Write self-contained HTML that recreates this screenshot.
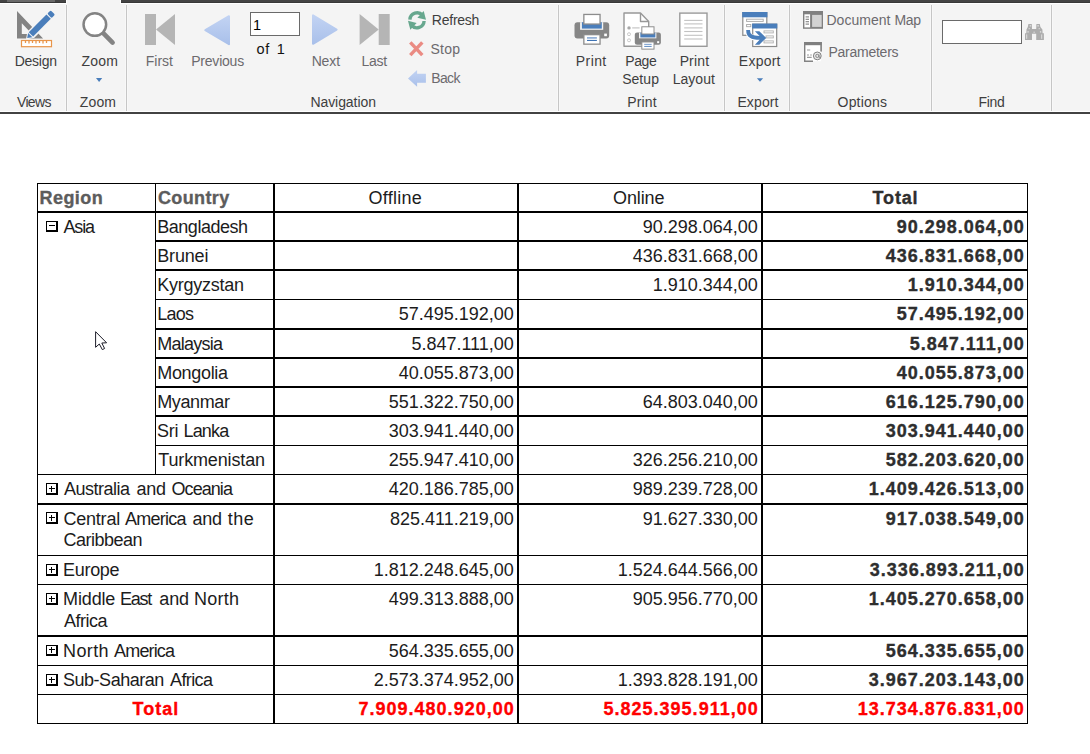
<!DOCTYPE html>
<html><head><meta charset="utf-8"><title>Report</title>
<style>
html,body{margin:0;padding:0}
body{width:1090px;height:754px;overflow:hidden;background:#fff;position:relative;font-family:"Liberation Sans",sans-serif}
.r{position:absolute}
.t{position:absolute;white-space:pre;font-family:"Liberation Sans",sans-serif}
svg{position:absolute;overflow:visible}
#rb{position:absolute;left:0;top:0;width:1090px;height:111px;background:#f4f4f4}
</style></head><body>
<div id="rb"></div>
<div class="r" style="left:0;top:112px;width:1090px;height:2px;background:#424242"></div>
<!-- top dark strip with tab gap -->
<div class="r" style="left:0;top:0;width:67px;height:4px;background:#fff"></div>
<div class="r" style="left:120px;top:0;width:970px;height:4px;background:#fff"></div>
<div class="r" style="left:0;top:0;width:66px;height:3px;background:#444"></div>
<div class="r" style="left:0;top:2px;width:66px;height:1px;background:#383838"></div>
<div class="r" style="left:7px;top:0;width:48px;height:2px;background:#6a6a6a"></div>
<div class="r" style="left:121px;top:0;width:969px;height:3px;background:#444"></div>
<div class="r" style="left:121px;top:2px;width:969px;height:1px;background:#383838"></div>
<div class="r" style="left:37px;top:183px;width:1px;height:541px;background:#000;"></div>
<div class="r" style="left:273px;top:183px;width:2px;height:541px;background:#000;"></div>
<div class="r" style="left:517px;top:183px;width:2px;height:541px;background:#000;"></div>
<div class="r" style="left:761px;top:183px;width:2px;height:541px;background:#000;"></div>
<div class="r" style="left:1027px;top:183px;width:1px;height:541px;background:#000;"></div>
<div class="r" style="left:155px;top:183px;width:1px;height:292px;background:#000;"></div>
<div class="r" style="left:37px;top:183px;width:991px;height:1px;background:#000;"></div>
<div class="r" style="left:37px;top:211px;width:991px;height:2px;background:#000;"></div>
<div class="r" style="left:37px;top:474px;width:991px;height:1px;background:#000;"></div>
<div class="r" style="left:37px;top:503px;width:991px;height:2px;background:#000;"></div>
<div class="r" style="left:37px;top:555px;width:991px;height:1px;background:#000;"></div>
<div class="r" style="left:37px;top:584px;width:991px;height:1px;background:#000;"></div>
<div class="r" style="left:37px;top:635px;width:991px;height:2px;background:#000;"></div>
<div class="r" style="left:37px;top:665px;width:991px;height:1px;background:#000;"></div>
<div class="r" style="left:37px;top:694px;width:991px;height:1px;background:#000;"></div>
<div class="r" style="left:37px;top:723px;width:991px;height:1px;background:#000;"></div>
<div class="r" style="left:155px;top:240px;width:873px;height:2px;background:#000;"></div>
<div class="r" style="left:155px;top:269px;width:873px;height:2px;background:#000;"></div>
<div class="r" style="left:155px;top:299px;width:873px;height:1px;background:#000;"></div>
<div class="r" style="left:155px;top:328px;width:873px;height:2px;background:#000;"></div>
<div class="r" style="left:155px;top:357px;width:873px;height:2px;background:#000;"></div>
<div class="r" style="left:155px;top:386px;width:873px;height:2px;background:#000;"></div>
<div class="r" style="left:155px;top:415px;width:873px;height:2px;background:#000;"></div>
<div class="r" style="left:155px;top:445px;width:873px;height:1px;background:#000;"></div>
<div class="r" style="left:66px;top:5px;width:1px;height:106px;background:#c6c6c6;"></div>
<div class="r" style="left:65px;top:5px;width:1px;height:106px;background:#f8f8f8;"></div>
<div class="r" style="left:67px;top:5px;width:1px;height:106px;background:#f8f8f8;"></div>
<div class="r" style="left:126px;top:5px;width:1px;height:106px;background:#c6c6c6;"></div>
<div class="r" style="left:125px;top:5px;width:1px;height:106px;background:#f8f8f8;"></div>
<div class="r" style="left:127px;top:5px;width:1px;height:106px;background:#f8f8f8;"></div>
<div class="r" style="left:558px;top:5px;width:1px;height:106px;background:#c6c6c6;"></div>
<div class="r" style="left:557px;top:5px;width:1px;height:106px;background:#f8f8f8;"></div>
<div class="r" style="left:559px;top:5px;width:1px;height:106px;background:#f8f8f8;"></div>
<div class="r" style="left:724px;top:5px;width:1px;height:106px;background:#c6c6c6;"></div>
<div class="r" style="left:723px;top:5px;width:1px;height:106px;background:#f8f8f8;"></div>
<div class="r" style="left:725px;top:5px;width:1px;height:106px;background:#f8f8f8;"></div>
<div class="r" style="left:789px;top:5px;width:1px;height:106px;background:#c6c6c6;"></div>
<div class="r" style="left:788px;top:5px;width:1px;height:106px;background:#f8f8f8;"></div>
<div class="r" style="left:790px;top:5px;width:1px;height:106px;background:#f8f8f8;"></div>
<div class="r" style="left:931px;top:5px;width:1px;height:106px;background:#c6c6c6;"></div>
<div class="r" style="left:930px;top:5px;width:1px;height:106px;background:#f8f8f8;"></div>
<div class="r" style="left:932px;top:5px;width:1px;height:106px;background:#f8f8f8;"></div>
<div class="r" style="left:1051px;top:5px;width:1px;height:106px;background:#c6c6c6;"></div>
<div class="r" style="left:1050px;top:5px;width:1px;height:106px;background:#f8f8f8;"></div>
<div class="r" style="left:1052px;top:5px;width:1px;height:106px;background:#f8f8f8;"></div>
<svg style="left:10px;top:5px" width="52" height="48" viewBox="10 5 52 48">
<path d="M17 11 L17 38.4 L43.1 38.4 Z M21.8 23.3 L32 34 L21.8 34 Z" fill="#838383" fill-rule="evenodd"/>
<g transform="translate(27.2,38.1) rotate(-45)">
  <path d="M-0.6 0 L5 -3.7 L36.6 -4 L36.6 4 L5 4 Z" fill="#f4f4f4" stroke="#f4f4f4" stroke-width="1.4" stroke-linejoin="round"/>
  <path d="M0 0 L4.3 -3 L4.3 3 Z" fill="#4a7ebb"/>
  <path d="M5.3 -3.1 L30.3 -3.1 L30.3 3.1 L5.3 3.1 Z" fill="#4a7ebb"/>
  <rect x="31.4" y="-3.1" width="4.9" height="6.2" rx="1.3" fill="#4a7ebb"/>
</g>
<rect x="21.5" y="40.5" width="30" height="6.2" fill="#fff" stroke="#e8954a" stroke-width="1.2"/>
<path d="M25.5 41 v2 M29 41 v2.6 M32.5 41 v2 M36 41 v2.6 M39.5 41 v2 M43 41 v2.6 M46.5 41 v2" stroke="#e8954a" stroke-width="1.3" fill="none"/>
</svg>
<svg style="left:74px;top:5px" width="52" height="48" viewBox="74 5 52 48">
<line x1="103" y1="32.8" x2="112.6" y2="42.6" stroke="#838383" stroke-width="4.6" stroke-linecap="round"/>
<circle cx="94.85" cy="24.55" r="11.3" fill="#fff" stroke="#838383" stroke-width="2.5"/>
</svg>
<svg style="left:94px;top:76px" width="12" height="8" viewBox="0 0 12 8"><path d="M2 2.1 L8.2 2.1 L5.1 6 Z" fill="#4a7ebb"/></svg>
<svg style="left:755px;top:76px" width="12" height="8" viewBox="0 0 12 8"><path d="M1.9 2.2 L8.1 2.2 L5 5.8 Z" fill="#4a7ebb"/></svg>
<svg style="left:140px;top:10px" width="40" height="40" viewBox="140 10 40 40"><rect x="145" y="14" width="11" height="31" fill="#b5b5b5"/><path d="M156 29.5 L175 14 L175 45 Z" fill="#b5b5b5"/></svg>
<svg style="left:355px;top:10px" width="40" height="40" viewBox="355 10 40 40"><rect x="378.7" y="14" width="11" height="31" fill="#b5b5b5"/><path d="M378.7 29.4 L359.6 14 L359.6 45 Z" fill="#b5b5b5"/></svg>
<svg style="left:200px;top:10px" width="40" height="40" viewBox="200 10 40 40"><defs><linearGradient id="lb" x1="0" y1="0" x2="0" y2="1"><stop offset="0" stop-color="#c2d3f3"/><stop offset="1" stop-color="#a9c0ea"/></linearGradient></defs><path d="M205.3 30.2 L229 16.2 L229 44.2 Z" fill="url(#lb)" stroke="url(#lb)" stroke-width="2" stroke-linejoin="round"/></svg>
<svg style="left:305px;top:10px" width="40" height="40" viewBox="305 10 40 40"><path d="M336.6 29.6 L313 15.4 L313 43.8 Z" fill="url(#lb)" stroke="url(#lb)" stroke-width="2" stroke-linejoin="round"/></svg>
<svg style="left:404px;top:7px" width="26" height="26" viewBox="404 7 26 26">
<g fill="none" stroke="#67a78e" stroke-width="3.4">
<path d="M409.9 19.6 A7.2 7.2 0 0 1 422.6 15.4"/>
<path d="M424.1 21.0 A7.2 7.2 0 0 1 411.4 25.2"/>
</g>
<path d="M423.7 10.9 L426 19.8 L417.4 17.7 Z" fill="#67a78e"/>
<path d="M410.3 29.7 L408 20.8 L416.6 22.9 Z" fill="#67a78e"/>
</svg>
<svg style="left:405px;top:38px" width="24" height="22" viewBox="405 38 24 22"><path d="M410.3 42.3 L422.3 55.2 M422.3 42.3 L410.3 55.2" stroke="#ea8b83" stroke-width="3.4" fill="none"/></svg>
<svg style="left:404px;top:66px" width="26" height="24" viewBox="404 66 26 24"><path d="M408 78.4 L417.1 70 L417.1 73.8 L425.9 73.8 L425.9 82.7 L417.1 82.7 L417.1 86.7 Z" fill="url(#lb)"/></svg>
<svg style="left:566px;top:5px" width="52" height="48" viewBox="566 5 52 48"><g transform="translate(574.5,13.8) scale(1.0)">
<rect x="0" y="8.4" width="34.7" height="16.2" rx="3" fill="#868686"/>
<rect x="5.6" y="8.4" width="23.1" height="7.6" fill="#f4f4f4"/>
<rect x="7.4" y="8.4" width="19.9" height="6.4" fill="#4a7ebb"/>
<rect x="9.35" y="0.65" width="16.2" height="9.6" fill="#fff" stroke="#8c8c8c" stroke-width="1.3"/>
<rect x="9.35" y="20.85" width="16.2" height="9.5" fill="#fff" stroke="#8c8c8c" stroke-width="1.3"/>
<rect x="12.5" y="23.3" width="9.9" height="1.6" fill="#8aaad4"/>
<rect x="12.5" y="26.1" width="9.9" height="1.1" fill="#3f74b5"/>
<rect x="29.7" y="19.8" width="2.7" height="2.6" fill="#fff"/>
</g></svg>
<svg style="left:616px;top:5px" width="52" height="48" viewBox="616 5 52 48">
<path d="M624 13 L640.5 13 L648.7 21.5 L648.7 46.3 L624 46.3 Z" fill="#fff" stroke="#989898" stroke-width="1.4" stroke-linejoin="round"/>
<path d="M640.5 13 L640.5 21.5 L648.7 21.5" fill="none" stroke="#989898" stroke-width="1.4" stroke-linejoin="round"/>
<circle cx="629" cy="27.9" r="1.7" fill="#a8a8a8"/>
<circle cx="629" cy="34.2" r="1.5" fill="none" stroke="#c4c4c4" stroke-width="0.9"/>
<circle cx="629" cy="40.3" r="1.5" fill="none" stroke="#c4c4c4" stroke-width="0.9"/>
<path d="M632.2 27.9 H639.6" stroke="#c4c4c4" stroke-width="1.2"/>
<rect x="633.6" y="25" width="28.6" height="25.8" fill="none"/>
<g transform="translate(634.8,26.3) scale(0.752)">
<rect x="0" y="8.4" width="34.7" height="16.2" rx="3" fill="#868686"/>
<rect x="5.6" y="8.4" width="23.1" height="7.6" fill="#f4f4f4"/>
<rect x="7.4" y="8.4" width="19.9" height="6.4" fill="#4a7ebb"/>
<rect x="9.35" y="0.65" width="16.2" height="9.6" fill="#fff" stroke="#8c8c8c" stroke-width="1.3"/>
<rect x="9.35" y="20.85" width="16.2" height="9.5" fill="#fff" stroke="#8c8c8c" stroke-width="1.3"/>
<rect x="12.5" y="23.3" width="9.9" height="1.6" fill="#8aaad4"/>
<rect x="12.5" y="26.1" width="9.9" height="1.1" fill="#3f74b5"/>
<rect x="29.7" y="19.8" width="2.7" height="2.6" fill="#fff"/>
</g></svg>
<svg style="left:670px;top:5px" width="52" height="48" viewBox="670 5 52 48"><rect x="679.8" y="13.1" width="27.2" height="33.2" fill="#fff" stroke="#9a9a9a" stroke-width="1.4"/><path d="M684.2 20.4 H702.5" stroke="#c2c2c2" stroke-width="1.1"/><path d="M684.2 23.9 H702.5" stroke="#c2c2c2" stroke-width="1.1"/><path d="M684.2 27.9 H702.5" stroke="#c2c2c2" stroke-width="1.1"/><path d="M684.2 31.5 H702.5" stroke="#c2c2c2" stroke-width="1.1"/><path d="M684.2 35.3 H702.5" stroke="#c2c2c2" stroke-width="1.1"/><path d="M684.2 39.0 H702.5" stroke="#c2c2c2" stroke-width="1.1"/></svg>
<svg style="left:735px;top:5px" width="50" height="50" viewBox="735 5 50 50">
<rect x="742.8" y="12.6" width="24" height="22.7" fill="#fff" stroke="#8a8a8a" stroke-width="1.2"/>
<rect x="742.2" y="12" width="25.2" height="5.3" fill="#4a7ebb"/>
<rect x="746.6" y="19.2" width="16.6" height="2.2" fill="#fff" stroke="#a8a8a8" stroke-width="0.9"/>
<rect x="746.6" y="24.5" width="4.2" height="2.2" fill="#fff" stroke="#a8a8a8" stroke-width="0.9"/>
<rect x="752.7" y="24.2" width="24" height="22.3" fill="#fff" stroke="#8a8a8a" stroke-width="1.2"/>
<rect x="752.1" y="23.6" width="25.2" height="4.9" fill="#4a7ebb"/>
<g fill="none" stroke="#b0b0b0" stroke-width="0.9"><rect x="764" y="30.9" width="9.3" height="2"/><rect x="766" y="35.9" width="7.3" height="2"/><rect x="764" y="40.9" width="9.3" height="2"/></g>
<path d="M748.1 30.5 C748.1 36 751.5 37.9 755.5 37.9" fill="none" stroke="#fff" stroke-width="5.4"/>
<path d="M748.1 29.9 C748.1 36 751.5 37.9 760 37.9" fill="none" stroke="#4a7ebb" stroke-width="3.8"/>
<path d="M754.9 31.2 L759.3 31.2 L766.2 37.9 L759.3 44.8 L754.9 44.8 L759.6 39.8 L759.6 36 Z" fill="#4a7ebb"/>
</svg>
<svg style="left:800px;top:8px" width="26" height="24" viewBox="800 8 26 24">
<rect x="803" y="11" width="20" height="17.8" fill="#808080"/>
<rect x="804.4" y="14.3" width="5.7" height="13.1" fill="#fff"/>
<rect x="812.1" y="14.9" width="9.6" height="12" fill="#d2d2d2"/>
<path d="M805.6 16.9 H809" stroke="#8a8a8a" stroke-width="1.2"/><path d="M805.6 19.3 H809" stroke="#8a8a8a" stroke-width="1.2"/><path d="M805.6 21.7 H809" stroke="#8a8a8a" stroke-width="1.2"/><path d="M805.6 24.1 H809" stroke="#8a8a8a" stroke-width="1.2"/></svg>
<svg style="left:800px;top:39px" width="26" height="26" viewBox="800 39 26 26">
<path d="M804.7 42.7 H821 V51.5 M804.7 42.7 V61.2 H813" fill="#fff" stroke="#808080" stroke-width="1.4"/>
<rect x="804.7" y="42.7" width="16.3" height="18.5" fill="#fff"/>
<path d="M804.7 61.2 V42.7 H821 V51.5" fill="none" stroke="#808080" stroke-width="1.4"/>
<path d="M804.7 61.2 H813" fill="none" stroke="#808080" stroke-width="1.4"/>
<rect x="804" y="42" width="17.7" height="3.2" fill="#808080"/>
<path d="M807 50 H810.2 M807 55 H809 M810.2 55 H811.8 M807 57.4 H811.7" stroke="#9a9a9a" stroke-width="1.2"/>
<circle cx="817.3" cy="55.9" r="3.9" fill="#e8e8e8" stroke="#808080" stroke-width="1"/>
<circle cx="817.3" cy="55.9" r="1.6" fill="none" stroke="#808080" stroke-width="0.9"/>
<path d="M819 54.5 V57.3 H820.4" fill="none" stroke="#808080" stroke-width="0.8"/>
</svg>
<svg style="left:1022px;top:20px" width="26" height="24" viewBox="1022 20 26 24">
<path d="M1028.4 24 H1031.8 L1032 29 H1036.2 L1036.4 24 H1039.8 L1040.4 27 L1042.4 29.5 L1042.6 33.3 H1043.9 V40 H1036.2 V33.7 H1032 V40 H1025 V33.3 H1026.3 L1026.5 29.5 L1027.8 27 Z" fill="#adadad"/>
<path d="M1026.7 34.4 V38.8 M1041.7 34.4 V38.8" stroke="#dedede" stroke-width="1"/>
<g fill="#d6d6d6"><rect x="1029.7" y="25" width="1.4" height="1.6"/><rect x="1037.3" y="25" width="1.6" height="1.6"/><rect x="1028.6" y="28.1" width="1.3" height="1.1"/><rect x="1038.6" y="28.1" width="1.3" height="1.1"/><rect x="1027.4" y="31" width="1.3" height="1.7"/><rect x="1033.5" y="31.6" width="1.3" height="1.3"/><rect x="1039.9" y="31" width="1.3" height="1.7"/></g>
</svg>
<div class="r" style="left:250px;top:12px;width:48px;height:22px;background:#fff;border:1px solid #6a6a6a"></div>
<div class="r" style="left:942px;top:20px;width:78px;height:22px;background:#fff;border:1px solid #6a6a6a"></div>
<div class="r" style="left:46px;top:221px;width:9px;height:8px;background:#fff;border-style:solid;border-color:#000;border-width:1px 2px 2px 1px"></div><div class="r" style="left:49px;top:225px;width:6px;height:1px;background:#000"></div>
<div class="r" style="left:46px;top:483px;width:9px;height:9px;background:#fff;border-style:solid;border-color:#000;border-width:1px 2px 2px 1px"></div><div class="r" style="left:49px;top:488px;width:6px;height:1px;background:#000"></div><div class="r" style="left:51px;top:486px;width:1px;height:6px;background:#000"></div>
<div class="r" style="left:46px;top:512px;width:9px;height:9px;background:#fff;border-style:solid;border-color:#000;border-width:1px 2px 2px 1px"></div><div class="r" style="left:49px;top:517px;width:6px;height:1px;background:#000"></div><div class="r" style="left:51px;top:515px;width:1px;height:6px;background:#000"></div>
<div class="r" style="left:46px;top:564px;width:9px;height:9px;background:#fff;border-style:solid;border-color:#000;border-width:1px 2px 2px 1px"></div><div class="r" style="left:49px;top:569px;width:6px;height:1px;background:#000"></div><div class="r" style="left:51px;top:567px;width:1px;height:6px;background:#000"></div>
<div class="r" style="left:46px;top:593px;width:9px;height:9px;background:#fff;border-style:solid;border-color:#000;border-width:1px 2px 2px 1px"></div><div class="r" style="left:49px;top:598px;width:6px;height:1px;background:#000"></div><div class="r" style="left:51px;top:596px;width:1px;height:6px;background:#000"></div>
<div class="r" style="left:46px;top:645px;width:9px;height:8px;background:#fff;border-style:solid;border-color:#000;border-width:1px 2px 2px 1px"></div><div class="r" style="left:49px;top:649px;width:6px;height:1px;background:#000"></div><div class="r" style="left:51px;top:647px;width:1px;height:6px;background:#000"></div>
<div class="r" style="left:46px;top:674px;width:9px;height:9px;background:#fff;border-style:solid;border-color:#000;border-width:1px 2px 2px 1px"></div><div class="r" style="left:49px;top:679px;width:6px;height:1px;background:#000"></div><div class="r" style="left:51px;top:677px;width:1px;height:6px;background:#000"></div>
<svg style="left:93px;top:329px" width="16" height="24" viewBox="93 329 16 24"><path d="M95.6 331.7 L95.6 347.3 L99.3 344 L102.3 349.6 L104.6 348.5 L101.8 343 L106.6 342.8 Z" fill="#fff" stroke="#1c1c28" stroke-width="1" stroke-linejoin="round"/></svg>
<span class="t" style="left:39.56px;top:188.00px;font-size:18px;line-height:20px;color:#5c5c5c;letter-spacing:0.425px;font-weight:bold;-webkit-text-stroke:0.35px;">Region</span>
<span class="t" style="left:158.00px;top:188.00px;font-size:18px;line-height:20px;color:#5c5c5c;letter-spacing:0.364px;font-weight:bold;-webkit-text-stroke:0.35px;">Country</span>
<span class="t" style="left:368.55px;top:188.00px;font-size:18px;line-height:20px;color:#1c1c1c;letter-spacing:0.257px;">Offline</span>
<span class="t" style="left:613.12px;top:188.00px;font-size:18px;line-height:20px;color:#1c1c1c;letter-spacing:-0.150px;">Online</span>
<span class="t" style="left:872.60px;top:188.00px;font-size:18px;line-height:20px;color:#2e2e2e;letter-spacing:0.827px;font-weight:bold;-webkit-text-stroke:0.35px;">Total</span>
<span class="t" style="left:63.58px;top:217.00px;font-size:18px;line-height:20px;color:#1c1c1c;letter-spacing:-1.209px;">Asia</span>
<span class="t" style="left:157.26px;top:217.00px;font-size:18px;line-height:20px;color:#1c1c1c;letter-spacing:-0.472px;">Bangladesh</span>
<span class="t" style="left:157.26px;top:246.00px;font-size:18px;line-height:20px;color:#1c1c1c;letter-spacing:-0.170px;">Brunei</span>
<span class="t" style="left:157.26px;top:275.00px;font-size:18px;line-height:20px;color:#1c1c1c;letter-spacing:-0.246px;">Kyrgyzstan</span>
<span class="t" style="left:157.26px;top:304.00px;font-size:18px;line-height:20px;color:#1c1c1c;letter-spacing:-0.783px;">Laos</span>
<span class="t" style="left:157.26px;top:333.50px;font-size:18px;line-height:20px;color:#1c1c1c;letter-spacing:-0.760px;">Malaysia</span>
<span class="t" style="left:157.26px;top:363.00px;font-size:18px;line-height:20px;color:#1c1c1c;letter-spacing:-0.327px;">Mongolia</span>
<span class="t" style="left:157.26px;top:392.00px;font-size:18px;line-height:20px;color:#1c1c1c;letter-spacing:-0.381px;">Myanmar</span>
<span><span class="t" style="left:157.07px;top:421.00px;font-size:18px;line-height:20px;color:#1c1c1c;letter-spacing:-0.225px;">Sri</span> <span class="t" style="left:183.48px;top:421.00px;font-size:18px;line-height:20px;color:#1c1c1c;letter-spacing:-0.819px;">Lanka</span></span>
<span class="t" style="left:158.23px;top:450.00px;font-size:18px;line-height:20px;color:#1c1c1c;letter-spacing:-0.137px;">Turkmenistan</span>
<span><span class="t" style="left:64.11px;top:479.00px;font-size:18px;line-height:20px;color:#1c1c1c;letter-spacing:-0.522px;">Australia</span> <span class="t" style="left:136.47px;top:479.00px;font-size:18px;line-height:20px;color:#1c1c1c;letter-spacing:-0.301px;">and</span> <span class="t" style="left:171.51px;top:479.00px;font-size:18px;line-height:20px;color:#1c1c1c;letter-spacing:-0.932px;">Oceania</span></span>
<span><span class="t" style="left:63.42px;top:509.00px;font-size:18px;line-height:20px;color:#1c1c1c;letter-spacing:-0.201px;">Central</span> <span class="t" style="left:125.11px;top:509.00px;font-size:18px;line-height:20px;color:#1c1c1c;letter-spacing:-0.781px;">America</span> <span class="t" style="left:192.53px;top:509.00px;font-size:18px;line-height:20px;color:#1c1c1c;letter-spacing:-0.223px;">and</span> <span class="t" style="left:227.76px;top:509.00px;font-size:18px;line-height:20px;color:#1c1c1c;letter-spacing:0.502px;">the</span></span>
<span class="t" style="left:63.42px;top:530.00px;font-size:18px;line-height:20px;color:#1c1c1c;letter-spacing:-0.499px;">Caribbean</span>
<span class="t" style="left:63.04px;top:560.00px;font-size:18px;line-height:20px;color:#1c1c1c;letter-spacing:-0.303px;">Europe</span>
<span><span class="t" style="left:63.04px;top:589.00px;font-size:18px;line-height:20px;color:#1c1c1c;letter-spacing:-0.134px;">Middle</span> <span class="t" style="left:119.89px;top:589.00px;font-size:18px;line-height:20px;color:#1c1c1c;letter-spacing:-1.224px;">East</span> <span class="t" style="left:159.28px;top:589.00px;font-size:18px;line-height:20px;color:#1c1c1c;letter-spacing:-0.097px;">and</span> <span class="t" style="left:194.04px;top:589.00px;font-size:18px;line-height:20px;color:#1c1c1c;letter-spacing:0.255px;">North</span></span>
<span class="t" style="left:64.11px;top:610.50px;font-size:18px;line-height:20px;color:#1c1c1c;letter-spacing:-0.504px;">Africa</span>
<span><span class="t" style="left:63.04px;top:641.00px;font-size:18px;line-height:20px;color:#1c1c1c;letter-spacing:0.396px;">North</span> <span class="t" style="left:114.11px;top:641.00px;font-size:18px;line-height:20px;color:#1c1c1c;letter-spacing:-0.859px;">America</span></span>
<span><span class="t" style="left:63.05px;top:670.00px;font-size:18px;line-height:20px;color:#1c1c1c;letter-spacing:-0.486px;">Sub-Saharan</span> <span class="t" style="left:170.06px;top:670.00px;font-size:18px;line-height:20px;color:#1c1c1c;letter-spacing:-0.611px;">Africa</span></span>
<span class="t" style="left:642.70px;top:217.00px;font-size:18px;line-height:20px;color:#1c1c1c;">90.298.064,00</span>
<span class="t" style="left:896.75px;top:217.00px;font-size:18px;line-height:20px;color:#2e2e2e;letter-spacing:1.000px;font-weight:bold;-webkit-text-stroke:0.35px;">90.298.064,00</span>
<span class="t" style="left:632.69px;top:246.00px;font-size:18px;line-height:20px;color:#1c1c1c;">436.831.668,00</span>
<span class="t" style="left:885.74px;top:246.00px;font-size:18px;line-height:20px;color:#2e2e2e;letter-spacing:1.000px;font-weight:bold;-webkit-text-stroke:0.35px;">436.831.668,00</span>
<span class="t" style="left:652.72px;top:275.00px;font-size:18px;line-height:20px;color:#1c1c1c;">1.910.344,00</span>
<span class="t" style="left:907.76px;top:275.00px;font-size:18px;line-height:20px;color:#2e2e2e;letter-spacing:1.000px;font-weight:bold;-webkit-text-stroke:0.35px;">1.910.344,00</span>
<span class="t" style="left:398.70px;top:304.00px;font-size:18px;line-height:20px;color:#1c1c1c;">57.495.192,00</span>
<span class="t" style="left:896.75px;top:304.00px;font-size:18px;line-height:20px;color:#2e2e2e;letter-spacing:1.000px;font-weight:bold;-webkit-text-stroke:0.35px;">57.495.192,00</span>
<span class="t" style="left:411.39px;top:333.50px;font-size:18px;line-height:20px;color:#1c1c1c;">5.847.111,00</span>
<span class="t" style="left:909.74px;top:333.50px;font-size:18px;line-height:20px;color:#2e2e2e;letter-spacing:1.000px;font-weight:bold;-webkit-text-stroke:0.35px;">5.847.111,00</span>
<span class="t" style="left:398.70px;top:363.00px;font-size:18px;line-height:20px;color:#1c1c1c;">40.055.873,00</span>
<span class="t" style="left:896.75px;top:363.00px;font-size:18px;line-height:20px;color:#2e2e2e;letter-spacing:1.000px;font-weight:bold;-webkit-text-stroke:0.35px;">40.055.873,00</span>
<span class="t" style="left:388.69px;top:392.00px;font-size:18px;line-height:20px;color:#1c1c1c;">551.322.750,00</span>
<span class="t" style="left:642.70px;top:392.00px;font-size:18px;line-height:20px;color:#1c1c1c;">64.803.040,00</span>
<span class="t" style="left:885.74px;top:392.00px;font-size:18px;line-height:20px;color:#2e2e2e;letter-spacing:1.000px;font-weight:bold;-webkit-text-stroke:0.35px;">616.125.790,00</span>
<span class="t" style="left:388.69px;top:421.00px;font-size:18px;line-height:20px;color:#1c1c1c;">303.941.440,00</span>
<span class="t" style="left:885.74px;top:421.00px;font-size:18px;line-height:20px;color:#2e2e2e;letter-spacing:1.000px;font-weight:bold;-webkit-text-stroke:0.35px;">303.941.440,00</span>
<span class="t" style="left:388.69px;top:450.00px;font-size:18px;line-height:20px;color:#1c1c1c;">255.947.410,00</span>
<span class="t" style="left:632.69px;top:450.00px;font-size:18px;line-height:20px;color:#1c1c1c;">326.256.210,00</span>
<span class="t" style="left:885.74px;top:450.00px;font-size:18px;line-height:20px;color:#2e2e2e;letter-spacing:1.000px;font-weight:bold;-webkit-text-stroke:0.35px;">582.203.620,00</span>
<span class="t" style="left:388.69px;top:479.00px;font-size:18px;line-height:20px;color:#1c1c1c;">420.186.785,00</span>
<span class="t" style="left:632.69px;top:479.00px;font-size:18px;line-height:20px;color:#1c1c1c;">989.239.728,00</span>
<span class="t" style="left:868.72px;top:479.00px;font-size:18px;line-height:20px;color:#2e2e2e;letter-spacing:1.000px;font-weight:bold;-webkit-text-stroke:0.35px;">1.409.426.513,00</span>
<span class="t" style="left:390.03px;top:509.00px;font-size:18px;line-height:20px;color:#1c1c1c;">825.411.219,00</span>
<span class="t" style="left:642.70px;top:509.00px;font-size:18px;line-height:20px;color:#1c1c1c;">91.627.330,00</span>
<span class="t" style="left:885.74px;top:509.00px;font-size:18px;line-height:20px;color:#2e2e2e;letter-spacing:1.000px;font-weight:bold;-webkit-text-stroke:0.35px;">917.038.549,00</span>
<span class="t" style="left:373.68px;top:560.00px;font-size:18px;line-height:20px;color:#1c1c1c;">1.812.248.645,00</span>
<span class="t" style="left:617.68px;top:560.00px;font-size:18px;line-height:20px;color:#1c1c1c;">1.524.644.566,00</span>
<span class="t" style="left:869.72px;top:560.00px;font-size:18px;line-height:20px;color:#2e2e2e;letter-spacing:1.000px;font-weight:bold;-webkit-text-stroke:0.35px;">3.336.893.211,00</span>
<span class="t" style="left:388.69px;top:589.00px;font-size:18px;line-height:20px;color:#1c1c1c;">499.313.888,00</span>
<span class="t" style="left:632.69px;top:589.00px;font-size:18px;line-height:20px;color:#1c1c1c;">905.956.770,00</span>
<span class="t" style="left:868.72px;top:589.00px;font-size:18px;line-height:20px;color:#2e2e2e;letter-spacing:1.000px;font-weight:bold;-webkit-text-stroke:0.35px;">1.405.270.658,00</span>
<span class="t" style="left:388.69px;top:641.00px;font-size:18px;line-height:20px;color:#1c1c1c;">564.335.655,00</span>
<span class="t" style="left:885.74px;top:641.00px;font-size:18px;line-height:20px;color:#2e2e2e;letter-spacing:1.000px;font-weight:bold;-webkit-text-stroke:0.35px;">564.335.655,00</span>
<span class="t" style="left:373.68px;top:670.00px;font-size:18px;line-height:20px;color:#1c1c1c;">2.573.374.952,00</span>
<span class="t" style="left:617.68px;top:670.00px;font-size:18px;line-height:20px;color:#1c1c1c;">1.393.828.191,00</span>
<span class="t" style="left:868.72px;top:670.00px;font-size:18px;line-height:20px;color:#2e2e2e;letter-spacing:1.000px;font-weight:bold;-webkit-text-stroke:0.35px;">3.967.203.143,00</span>
<span class="t" style="left:132.56px;top:699.00px;font-size:18px;line-height:20px;color:#ff0000;letter-spacing:0.987px;font-weight:bold;-webkit-text-stroke:0.35px;">Total</span>
<span class="t" style="left:358.56px;top:699.00px;font-size:18px;line-height:20px;color:#ff0000;letter-spacing:1.000px;font-weight:bold;-webkit-text-stroke:0.35px;">7.909.480.920,00</span>
<span class="t" style="left:603.55px;top:699.00px;font-size:18px;line-height:20px;color:#ff0000;letter-spacing:1.000px;font-weight:bold;-webkit-text-stroke:0.35px;">5.825.395.911,00</span>
<span class="t" style="left:857.71px;top:699.00px;font-size:18px;line-height:20px;color:#ff0000;letter-spacing:1.000px;font-weight:bold;-webkit-text-stroke:0.35px;">13.734.876.831,00</span>
<span class="t" style="left:14.64px;top:53.00px;font-size:14px;line-height:16px;color:#3e3e3e;letter-spacing:-0.239px;">Design</span>
<span class="t" style="left:81.57px;top:53.00px;font-size:14px;line-height:16px;color:#3e3e3e;letter-spacing:0.151px;">Zoom</span>
<span class="t" style="left:145.86px;top:53.00px;font-size:14px;line-height:16px;color:#6c6a6e;letter-spacing:-0.059px;">First</span>
<span class="t" style="left:191.24px;top:53.00px;font-size:14px;line-height:16px;color:#6c6a6e;letter-spacing:-0.219px;">Previous</span>
<span class="t" style="left:311.64px;top:53.00px;font-size:14px;line-height:16px;color:#6c6a6e;letter-spacing:-0.126px;">Next</span>
<span class="t" style="left:361.41px;top:53.00px;font-size:14px;line-height:16px;color:#6c6a6e;letter-spacing:-0.274px;">Last</span>
<span class="t" style="left:431.86px;top:12.00px;font-size:14px;line-height:16px;color:#3e3e3e;letter-spacing:-0.253px;">Refresh</span>
<span class="t" style="left:430.50px;top:41.00px;font-size:14px;line-height:16px;color:#6c6a6e;letter-spacing:0.276px;">Stop</span>
<span class="t" style="left:431.24px;top:70.00px;font-size:14px;line-height:16px;color:#6c6a6e;letter-spacing:-0.645px;">Back</span>
<span class="t" style="left:575.86px;top:53.00px;font-size:14px;line-height:16px;color:#3e3e3e;letter-spacing:0.399px;">Print</span>
<span class="t" style="left:625.23px;top:53.00px;font-size:14px;line-height:16px;color:#3e3e3e;letter-spacing:-0.381px;">Page</span>
<span class="t" style="left:622.16px;top:71.00px;font-size:14px;line-height:16px;color:#3e3e3e;letter-spacing:0.044px;">Setup</span>
<span class="t" style="left:679.64px;top:53.00px;font-size:14px;line-height:16px;color:#3e3e3e;letter-spacing:0.155px;">Print</span>
<span class="t" style="left:672.71px;top:71.00px;font-size:14px;line-height:16px;color:#3e3e3e;letter-spacing:0.026px;">Layout</span>
<span class="t" style="left:738.86px;top:53.00px;font-size:14px;line-height:16px;color:#3e3e3e;letter-spacing:0.236px;">Export</span>
<span><span class="t" style="left:826.41px;top:12.00px;font-size:14px;line-height:16px;color:#6c6a6e;letter-spacing:0.040px;">Document</span> <span class="t" style="left:894.41px;top:12.00px;font-size:14px;line-height:16px;color:#6c6a6e;letter-spacing:-0.361px;">Map</span></span>
<span class="t" style="left:828.41px;top:44.00px;font-size:14px;line-height:16px;color:#6c6a6e;letter-spacing:-0.242px;">Parameters</span>
<span class="t" style="left:17.03px;top:94.00px;font-size:14px;line-height:16px;color:#3e3e3e;letter-spacing:-0.681px;">Views</span>
<span class="t" style="left:79.76px;top:94.00px;font-size:14px;line-height:16px;color:#3e3e3e;letter-spacing:0.144px;">Zoom</span>
<span class="t" style="left:310.41px;top:94.00px;font-size:14px;line-height:16px;color:#3e3e3e;letter-spacing:-0.071px;">Navigation</span>
<span class="t" style="left:627.24px;top:94.00px;font-size:14px;line-height:16px;color:#3e3e3e;letter-spacing:0.163px;">Print</span>
<span class="t" style="left:737.41px;top:94.00px;font-size:14px;line-height:16px;color:#3e3e3e;letter-spacing:0.126px;">Export</span>
<span class="t" style="left:837.56px;top:94.00px;font-size:14px;line-height:16px;color:#3e3e3e;letter-spacing:0.197px;">Options</span>
<span class="t" style="left:978.41px;top:94.00px;font-size:14px;line-height:16px;color:#3e3e3e;letter-spacing:-0.270px;">Find</span>
<span class="t" style="left:252.97px;top:16.50px;font-size:14.5px;line-height:16px;color:#000;">1</span>
<span class="t" style="left:256.49px;top:40.80px;font-size:14.5px;line-height:16px;color:#111;letter-spacing:0.653px;">of</span>
<span class="t" style="left:276.76px;top:40.80px;font-size:14.5px;line-height:16px;color:#111;">1</span>
</body></html>
